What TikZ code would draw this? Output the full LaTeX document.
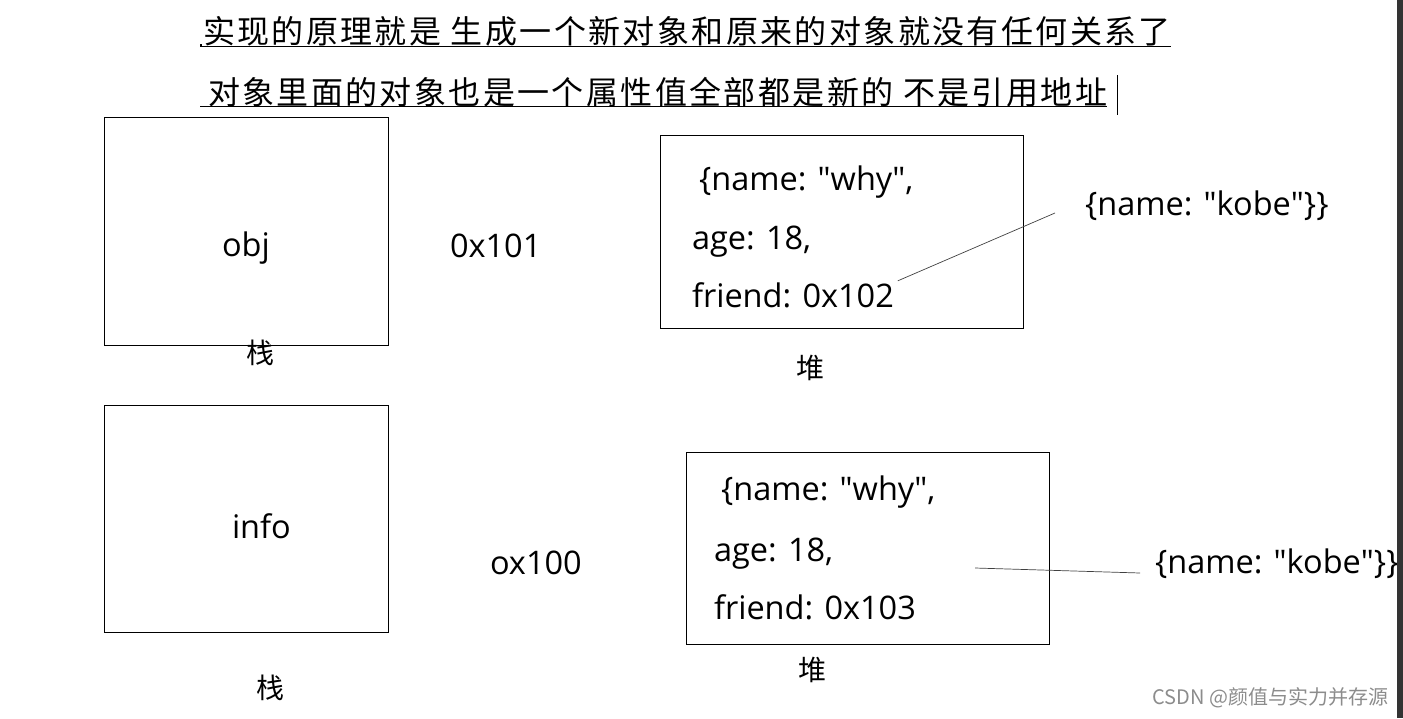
\documentclass[tikz,border=0pt]{standalone}
\usepackage{fontspec}
\setmainfont{Open Sans}
\newfontfamily\cjk{Noto Sans CJK SC}
\usetikzlibrary{positioning}

\begin{document}
\begin{tikzpicture}[
    x=1pt, y=-1pt,
    every node/.style={inner sep=0pt, outer sep=0pt},
    txt/.style={font=\fontsize{32.5}{36}\selectfont, anchor=base west},
    title/.style={font=\cjk\addfontfeature{LetterSpace=7.5}\fontsize{32}{38}\selectfont, anchor=west},
    tag/.style={font=\cjk\fontsize{28}{32}\selectfont},
    box/.style={draw, line width=0.8pt, anchor=north west},
    ptr/.style={draw=black!75, line width=0.7pt}
]
\useasboundingbox (0,0) rectangle (1403,718);
% titles
\node[title] (title1) at (203,31) {实现的原理就是 生成一个新对象和原来的对象就没有任何关系了};
\node[title] (title2) at (208,92) {对象里面的对象也是一个属性值全部都是新的 不是引用地址};
\draw[line width=0.8pt] (200,46) -- (title1.east |- 0,46);
\draw[line width=0.8pt] (200,106) -- (title2.east |- 0,106);
\fill (200,44) rectangle (202,47);
\coordinate (cur) at (1117,75);
\draw[line width=0.8pt] (cur) -- ++(0,40);
% stack, top
\node[box, minimum width=284pt, minimum height=228pt] (objbox) at (104,117) {};
\node[txt] (obj) at (222,256) {obj};
\node[tag] (stack1) at (260,353) {栈};
\node[txt] (addr1) at (450,257) {0x101};
% heap, top
\node[box, minimum width=363pt, minimum height=193pt] (heap1) at (660,135) {};
\node[txt] (name1) at (699,190) {\{name: \textquotedbl why\textquotedbl,};
\node[txt] (age1) at (692,249) {age: 18,};
\node[txt] (friend1) at (692,307) {friend: 0x102};
\node[tag] (heaplbl1) at (810,368) {堆};
\node[txt] (kobe1) at (1085,215) {\{name: \textquotedbl kobe\textquotedbl\}\}};
\coordinate (end1) at (1055,213);
\draw[ptr] (friend1.east) ++(4,-14) -- (end1);
% stack, bottom
\node[box, minimum width=284pt, minimum height=227pt] (infobox) at (104,405) {};
\node[txt] (info) at (232,538) {info};
\node[tag] (stack2) at (270,688) {栈};
\node[txt] (addr2) at (490,574) {ox100};
% heap, bottom
\node[box, minimum width=363pt, minimum height=192pt] (heap2) at (686,452) {};
\node[txt] (name2) at (721,500) {\{name: \textquotedbl why\textquotedbl,};
\node[txt] (age2) at (714,561) {age: 18,};
\node[txt] (friend2) at (714,619) {friend: 0x103};
\node[tag] (heaplbl2) at (812,670) {堆};
\node[txt] (kobe2) at (1155,573) {\{name: \textquotedbl kobe\textquotedbl\}\}};
\coordinate (start2) at (975,568);
\coordinate (end2) at (1140,573);
\draw[ptr] (start2) -- (end2);
% watermark and edge
\node[font=\cjk\fontsize{20}{22}\selectfont, text=black!45, anchor=east] (mark) at (1388,698) {CSDN @颜值与实力并存源};
\fill[black!80] (1397,0) rectangle (1403,718);
\end{tikzpicture}
\end{document}
